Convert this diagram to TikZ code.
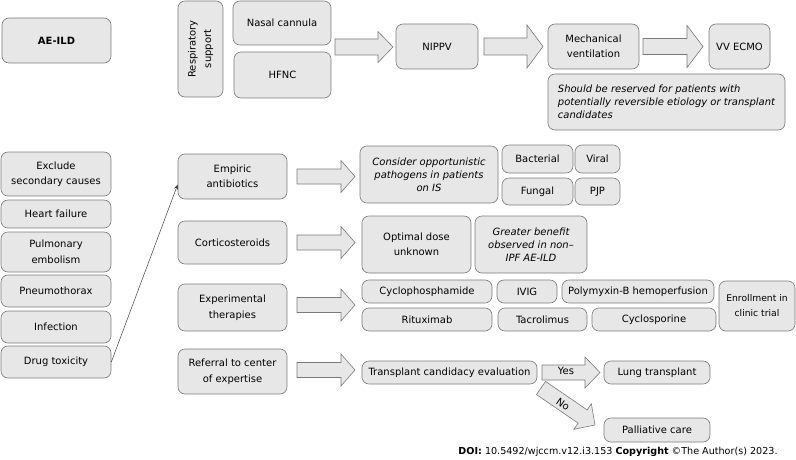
\documentclass[tikz,border=0pt]{standalone}
\usepackage{fontspec}
\setmainfont{DejaVu Sans}
\usetikzlibrary{calc,arrows.meta}
\definecolor{boxfill}{HTML}{E7E7E7}
\definecolor{boxline}{HTML}{7A7A7A}
\newcommand\barr[5]{%
  \draw[arrst] let \p1=#1, \p2=#2, \n1={atan2(\y2-\y1,\x2-\x1)}, \n2={veclen(\x2-\x1,\y2-\y1)} in
  [shift={(\p1)}, rotate=\n1] (0,#3) -- (\n2-#5,#3) -- (\n2-#5,#4) -- (\n2,0) -- (\n2-#5,-#4) -- (\n2-#5,-#3) -- (0,-#3) -- cycle;}
\begin{document}
\begin{tikzpicture}[x=1pt,y=-1pt,
  box/.style={draw=boxline, fill=boxfill, rounded corners=7pt, line width=0.6pt, align=center, inner sep=0pt, font=\fontsize{10}{15.5}\selectfont},
  it/.style={font=\fontsize{10}{13}\selectfont\itshape},
  bold/.style={font=\fontsize{10}{15.5}\selectfont\bfseries},
  arrst/.style={draw=boxline, fill=boxfill, line width=0.6pt},
  lbl/.style={inner sep=0pt, font=\fontsize{10}{12}\selectfont}]
\useasboundingbox (0,0) rectangle (796,460);
% top row
\node[box,bold,minimum width=109pt,minimum height=45pt] (aeild) at (56.5,40.5) {AE-ILD};
\node[box,rotate=90,minimum width=96pt,minimum height=45pt] (resp) at (200.5,49) {Respiratory\\support};
\node[box,minimum width=98pt,minimum height=44pt] (nasal) at (282,23) {Nasal cannula};
\node[box,minimum width=97pt,minimum height=46pt] (hfnc) at (282.5,75) {HFNC};
\node[box,minimum width=82pt,minimum height=45pt] (nippv) at (437,46.5) {NIPPV};
\node[box,minimum width=91pt,minimum height=45pt] (mech) at (593.5,46.5) {Mechanical\\ventilation};
\node[box,minimum width=61pt,minimum height=45pt] (vv) at (739.5,46.5) {VV ECMO};
\node[box,it,align=left,minimum width=237pt,minimum height=56pt] (resv) at (666.5,102) {Should be reserved for patients with\\potentially reversible etiology or transplant\\candidates};
% left column
\node[box,minimum width=110pt,minimum height=44pt] (excl) at (56,174) {Exclude\\secondary causes};
\node[box,minimum width=110pt,minimum height=28pt] (heart) at (56,214) {Heart failure};
\node[box,minimum width=110pt,minimum height=40pt] (pulm) at (56,252) {Pulmonary\\embolism};
\node[box,minimum width=110pt,minimum height=32pt] (pneu) at (56,291) {Pneumothorax};
\node[box,minimum width=110pt,minimum height=32pt] (infec) at (56,327) {Infection};
\node[box,minimum width=110pt,minimum height=32pt] (drug) at (56,362) {Drug toxicity};
% middle column
\node[box,minimum width=109pt,minimum height=45pt] (emp) at (232.5,176.5) {Empiric\\antibiotics};
\node[box,minimum width=109pt,minimum height=43pt] (cort) at (232.5,242.5) {Corticosteroids};
\node[box,minimum width=109pt,minimum height=47pt] (exper) at (232.5,307.5) {Experimental\\therapies};
\node[box,minimum width=109pt,minimum height=45pt] (ref) at (232.5,371.5) {Referral to center\\of expertise};
% right side
\node[box,it,minimum width=138pt,minimum height=57pt] (cons) at (429,174.5) {Consider opportunistic\\pathogens in patients\\on IS};
\node[box,minimum width=71pt,minimum height=28pt] (bact) at (537.5,159) {Bacterial};
\node[box,minimum width=45pt,minimum height=28pt] (viral) at (597.5,159) {Viral};
\node[box,minimum width=71pt,minimum height=27pt] (fung) at (537.5,191.5) {Fungal};
\node[box,minimum width=45pt,minimum height=27pt] (pjp) at (597.5,191.5) {PJP};
\node[box,minimum width=109pt,minimum height=57pt] (opt) at (416.5,244.5) {Optimal dose\\unknown};
\node[box,it,minimum width=112pt,minimum height=57pt] (great) at (531,244.5) {Greater benefit\\observed in non–\\IPF AE-ILD};
\node[box,minimum width=130pt,minimum height=23pt] (cyclo) at (427,291.5) {Cyclophosphamide};
\node[box,minimum width=60pt,minimum height=23pt] (ivig) at (527,291.5) {IVIG};
\node[box,minimum width=152pt,minimum height=23pt] (poly) at (638,291.5) {Polymyxin-B hemoperfusion};
\node[box,minimum width=76pt,minimum height=50pt,font=\fontsize{9.2}{15}\selectfont] (enrol) at (757,306) {Enrollment in\\clinic trial};
\node[box,minimum width=130pt,minimum height=23pt] (ritux) at (427,319.5) {Rituximab};
\node[box,minimum width=89pt,minimum height=23pt] (tacro) at (542.5,319.5) {Tacrolimus};
\node[box,minimum width=124pt,minimum height=23pt] (cyclos) at (654,319.5) {Cyclosporine};
\node[box,minimum width=175pt,minimum height=23pt] (trans) at (449.5,372.5) {Transplant candidacy evaluation};
\node[box,minimum width=106pt,minimum height=23pt] (lung) at (657,372.5) {Lung transplant};
\node[box,minimum width=106pt,minimum height=24pt] (pall) at (657,430) {Palliative care};
% block arrows
\coordinate (a1s) at (335,47);   \coordinate (a1e) at (393,47);
\coordinate (a2s) at (484,46.5); \coordinate (a2e) at (543,46.5);
\coordinate (a3s) at (643,46.5); \coordinate (a3e) at (703,46.5);
\coordinate (m1s) at (297,176.5); \coordinate (m1e) at (355,176.5);
\coordinate (m2s) at (297,242.5); \coordinate (m2e) at (355,242.5);
\coordinate (m3s) at (297,305);   \coordinate (m3e) at (355,305);
\coordinate (m4s) at (297,370);   \coordinate (m4e) at (355,370);
\coordinate (ys) at (542,372.5);  \coordinate (ye) at (600,372.5);
\coordinate (ns) at (541,388);    \coordinate (ne) at (595,425);
\barr{(a1s)}{(a1e)}{8}{15.5}{15}
\barr{(a2s)}{(a2e)}{8.5}{21.5}{16}
\barr{(a3s)}{(a3e)}{8}{21}{16}
\barr{(m1s)}{(m1e)}{7.5}{16}{14}
\barr{(m2s)}{(m2e)}{7.5}{16}{14}
\barr{(m3s)}{(m3e)}{7.5}{16}{14}
\barr{(m4s)}{(m4e)}{7.5}{16}{14}
\barr{(ys)}{(ye)}{7.5}{15.5}{15}
\barr{(ns)}{(ne)}{8}{15.5}{15}
\node[lbl] (yes) at (566,371) {Yes};
\node[lbl,rotate=-35] (no) at (563,404) {No};
% thin arrow
\draw[-{Stealth[length=5pt,width=4pt]}, line width=0.5pt, draw=black!75] (drug.east) -- ($(emp.west)+(0,8)$);
% footer
\node[inner sep=0pt] (doi) at (618,451.5) {\fontsize{9.6}{11}\selectfont\textbf{DOI:} 10.5492/wjccm.v12.i3.153 \textbf{Copyright} ©The Author(s) 2023.};
\end{tikzpicture}
\end{document}
